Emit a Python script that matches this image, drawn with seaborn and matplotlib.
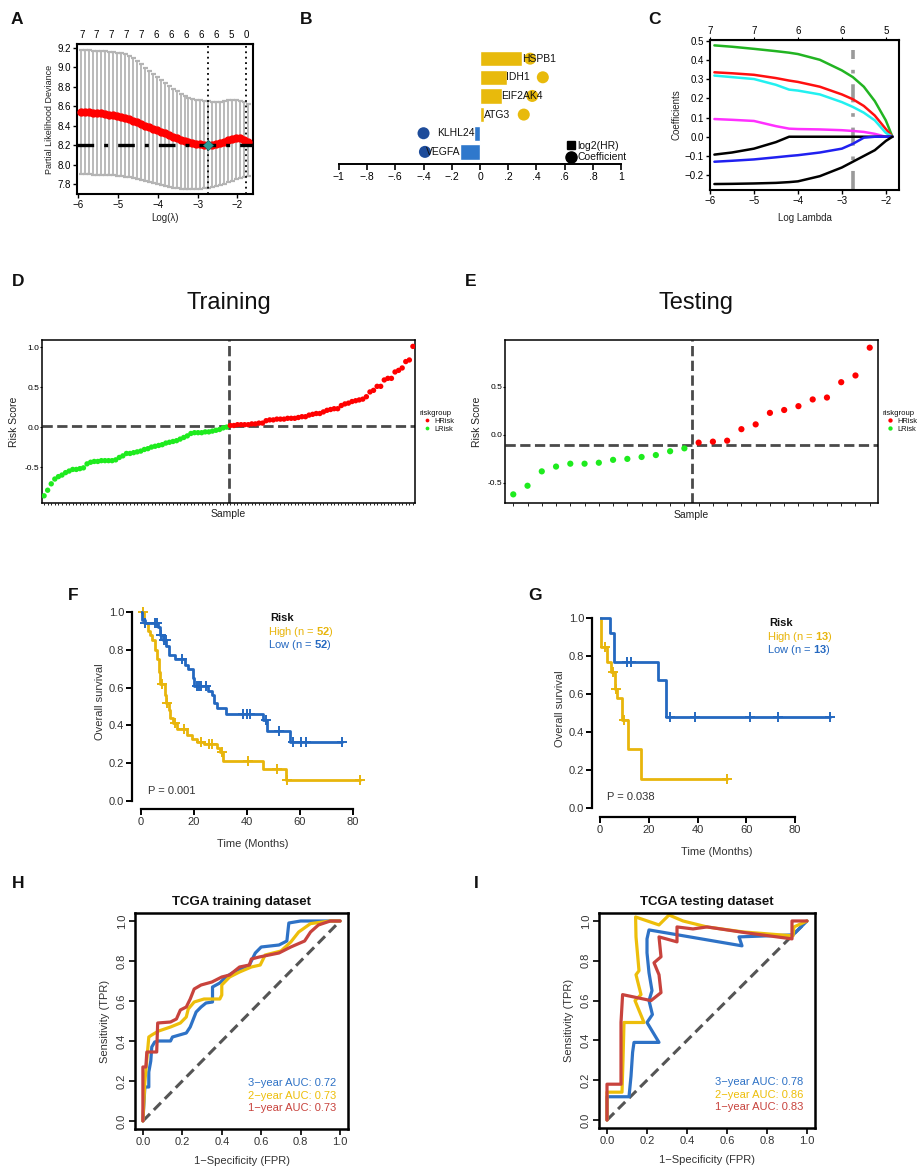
import numpy as np
import pandas as pd
import matplotlib
matplotlib.use("Agg")
import matplotlib.pyplot as plt
import seaborn as sns
from matplotlib.lines import Line2D

# ---------------- A : cross validation of the lasso model ----------------
cv_loglam = [-5.93, -5.83, -5.73, -5.63, -5.53, -5.43, -5.33, -5.23, -5.13, -5.03,
             -4.93, -4.83, -4.73, -4.63, -4.53, -4.43, -4.33, -4.23, -4.13, -4.03,
             -3.93, -3.83, -3.73, -3.63, -3.53, -3.43, -3.33, -3.23, -3.13, -3.03,
             -2.93, -2.83, -2.73, -2.63, -2.53, -2.43, -2.33, -2.23, -2.13, -2.03,
             -1.93, -1.83, -1.73]
cv_mean = [8.54, 8.54, 8.54, 8.53, 8.53, 8.53, 8.52, 8.51, 8.51, 8.50,
           8.49, 8.48, 8.47, 8.45, 8.44, 8.42, 8.40, 8.39, 8.37, 8.36,
           8.34, 8.33, 8.31, 8.29, 8.27, 8.25, 8.24, 8.23, 8.22, 8.21,
           8.21, 8.20, 8.20, 8.20, 8.21, 8.22, 8.23, 8.25, 8.26, 8.28,
           8.27, 8.25, 8.23]
cv_upper = [9.18, 9.18, 9.18, 9.17, 9.17, 9.17, 9.17, 9.16, 9.16, 9.15,
            9.15, 9.14, 9.12, 9.10, 9.07, 9.03, 8.99, 8.96, 8.93, 8.90,
            8.87, 8.84, 8.81, 8.78, 8.76, 8.73, 8.71, 8.69, 8.68, 8.67,
            8.66, 8.65, 8.65, 8.64, 8.64, 8.64, 8.65, 8.66, 8.66, 8.66,
            8.65, 8.64, 8.62]
cv_lower = [7.91, 7.91, 7.91, 7.90, 7.90, 7.90, 7.90, 7.89, 7.89, 7.88,
            7.88, 7.87, 7.87, 7.86, 7.85, 7.84, 7.83, 7.82, 7.81, 7.80,
            7.79, 7.78, 7.77, 7.76, 7.76, 7.75, 7.75, 7.75, 7.75, 7.75,
            7.75, 7.76, 7.76, 7.77, 7.78, 7.79, 7.80, 7.82, 7.83, 7.85,
            7.86, 7.87, 7.88]
cv_min_dev = 8.20
lam_min = -2.73
lam_1se = -1.79
cv_top_pos = [-5.91, -5.54, -5.16, -4.79, -4.41, -4.04, -3.66, -3.29, -2.91, -2.54, -2.16, -1.79]
cv_top_lab = ["7", "7", "7", "7", "7", "6", "6", "6", "6", "6", "5", "0"]

# ---------------- B : log2(HR) and coefficients ----------------
genes = ["HSPB1", "IDH1", "EIF2AK4", "ATG3", "KLHL24", "VEGFA"]
log2hr = [0.30, 0.19, 0.155, 0.03, -0.04, -0.14]
coefs = [0.355, 0.445, 0.37, 0.31, -0.40, -0.39]
b_ticks = [-1, -0.8, -0.6, -0.4, -0.2, 0, 0.2, 0.4, 0.6, 0.8, 1]
b_ticklab = ["\u22121", "\u2212.8", "\u2212.6", "\u2212.4", "\u2212.2", "0", ".2", ".4", ".6", ".8", "1"]

# ---------------- C : coefficient paths ----------------
path_loglam = [-5.9, -5.5, -5.0, -4.5, -4.2, -4.0, -3.5, -3.0, -2.75, -2.5, -2.25, -2.0, -1.85]
path_green = [0.475, 0.468, 0.457, 0.445, 0.437, 0.43, 0.40, 0.345, 0.31, 0.26, 0.185, 0.085, 0.0]
path_red = [0.335, 0.33, 0.322, 0.305, 0.292, 0.285, 0.26, 0.22, 0.195, 0.16, 0.11, 0.04, 0.0]
path_cyan = [0.318, 0.31, 0.30, 0.27, 0.245, 0.24, 0.22, 0.18, 0.155, 0.125, 0.085, 0.02, 0.0]
path_magenta = [0.092, 0.088, 0.082, 0.055, 0.042, 0.04, 0.038, 0.034, 0.03, 0.025, 0.015, 0.0, 0.0]
path_black1 = [-0.093, -0.082, -0.062, -0.028, 0.0, 0.0, 0.0, 0.0, 0.0, 0.0, 0.0, 0.0, 0.0]
path_blue = [-0.13, -0.125, -0.118, -0.107, -0.1, -0.096, -0.082, -0.062, -0.037, -0.005, 0.0, 0.0, 0.0]
path_black2 = [-0.246, -0.245, -0.243, -0.240, -0.236, -0.232, -0.205, -0.16, -0.13, -0.10, -0.07, -0.022, 0.0]
c_top_pos = [-6, -5, -4, -3, -2]
c_top_lab = ["7", "7", "6", "6", "5"]
c_lam = -2.75

# ---------------- D / E : risk score distribution ----------------
train_low = [-0.86, -0.79, -0.71, -0.65, -0.62, -0.60, -0.57, -0.55, -0.53, -0.53,
             -0.52, -0.51, -0.46, -0.44, -0.43, -0.43, -0.42, -0.42, -0.42, -0.42,
             -0.41, -0.38, -0.36, -0.33, -0.33, -0.32, -0.31, -0.30, -0.28, -0.27,
             -0.25, -0.24, -0.23, -0.22, -0.20, -0.19, -0.18, -0.17, -0.15, -0.13,
             -0.11, -0.08, -0.07, -0.07, -0.07, -0.06, -0.06, -0.05, -0.04, -0.03,
             -0.01, 0.00]
train_high = [0.02, 0.02, 0.03, 0.03, 0.03, 0.03, 0.04, 0.04, 0.05, 0.05,
              0.08, 0.09, 0.09, 0.10, 0.10, 0.10, 0.11, 0.11, 0.11, 0.12,
              0.13, 0.13, 0.15, 0.16, 0.17, 0.17, 0.19, 0.21, 0.22, 0.23,
              0.23, 0.27, 0.29, 0.30, 0.32, 0.33, 0.34, 0.35, 0.38, 0.44,
              0.46, 0.51, 0.51, 0.59, 0.61, 0.61, 0.69, 0.71, 0.74, 0.82,
              0.84, 1.01]
train_cut = 0.01
test_low = [-0.62, -0.53, -0.38, -0.33, -0.30, -0.30, -0.29, -0.26, -0.25, -0.23, -0.21, -0.17, -0.14]
test_high = [-0.08, -0.07, -0.06, 0.06, 0.11, 0.23, 0.26, 0.30, 0.37, 0.39, 0.55, 0.62, 0.91]
test_cut = -0.10

# ---------------- F / G : Kaplan-Meier ----------------
f_high_t = [0, 1.1, 2.5, 3.5, 4.1, 5.1, 6.0, 6.9, 7.3, 9.2, 9.5, 10.4, 11.0, 12.0, 13.5,
            17.5, 19.3, 21.2, 23.7, 28.7, 29.9, 31.1, 46.1, 54.7, 82.5]
f_high_s = [1.0, 0.94, 0.90, 0.88, 0.85, 0.80, 0.75, 0.68, 0.62, 0.56, 0.52, 0.48, 0.44, 0.41, 0.38,
            0.35, 0.33, 0.31, 0.30, 0.28, 0.26, 0.21, 0.17, 0.11, 0.11]
f_high_cens = [0.75, 7.9, 9.8, 12.7, 16.3, 22.6, 25.5, 26.7, 30.5, 40.5, 51.2, 55.2, 82.5]
f_low_t = [0, 0.4, 1.6, 6.6, 7.3, 8.3, 9.5, 10.4, 12.9, 16.7, 17.9, 19.6, 20.1, 25.1, 26.7,
           27.6, 28.6, 32.0, 46.1, 47.6, 56.2, 76.0]
f_low_s = [1.0, 0.96, 0.94, 0.92, 0.88, 0.85, 0.82, 0.77, 0.75, 0.72, 0.70, 0.65, 0.61, 0.58, 0.56,
           0.52, 0.49, 0.46, 0.43, 0.37, 0.31, 0.31]
f_low_cens = [1.6, 5.4, 6.0, 7.6, 8.8, 9.3, 15.6, 21.0, 21.8, 22.5, 24.7, 38.4, 39.9, 41.1,
              47.3, 52.2, 57.4, 60.2, 62.2, 76.0]
f_n = (52, 52)
f_p = "P = 0.001"

g_high_t = [0, 0.4, 3.0, 4.4, 6.1, 7.0, 9.0, 11.6, 17.0, 51.9]
g_high_s = [1.0, 0.846, 0.769, 0.718, 0.628, 0.577, 0.462, 0.308, 0.154, 0.154]
g_high_cens = [2.0, 5.2, 6.5, 9.9, 51.9]
g_low_t = [0, 4.1, 5.9, 23.9, 26.9, 94.2]
g_low_s = [1.0, 0.923, 0.769, 0.673, 0.481, 0.481]
g_low_cens = [10.9, 12.6, 28.7, 38.8, 61.7, 73.0, 94.2]
g_n = (13, 13)
g_p = "P = 0.038"

# ---------------- H / I : time dependent ROC ----------------
h_fpr_3y = [0, 0.01, 0.03, 0.03, 0.04, 0.045, 0.06, 0.08, 0.14, 0.15, 0.22, 0.24, 0.25, 0.27, 0.295,
            0.32, 0.353, 0.353, 0.39, 0.42, 0.47, 0.54, 0.57, 0.60, 0.69, 0.73, 0.74, 0.80, 0.85, 1.0]
h_tpr_3y = [0, 0.17, 0.17, 0.245, 0.30, 0.37, 0.395, 0.40, 0.40, 0.42, 0.44, 0.47, 0.495, 0.545, 0.57,
            0.59, 0.595, 0.67, 0.69, 0.72, 0.75, 0.78, 0.84, 0.87, 0.88, 0.90, 0.99, 1.0, 1.0, 1.0]
h_fpr_2y = [0, 0.01, 0.03, 0.045, 0.08, 0.14, 0.19, 0.22, 0.23, 0.26, 0.31, 0.39, 0.40, 0.40, 0.44,
            0.49, 0.55, 0.595, 0.62, 0.70, 0.75, 0.79, 0.85, 0.95, 1.0]
h_tpr_2y = [0, 0.195, 0.42, 0.43, 0.45, 0.47, 0.49, 0.52, 0.56, 0.595, 0.61, 0.61, 0.63, 0.68, 0.72,
            0.745, 0.77, 0.78, 0.83, 0.85, 0.895, 0.945, 0.987, 1.0, 1.0]
h_fpr_1y = [0, 0, 0.015, 0.02, 0.07, 0.075, 0.14, 0.17, 0.19, 0.22, 0.24, 0.26, 0.295, 0.35, 0.40,
            0.44, 0.49, 0.54, 0.55, 0.59, 0.69, 0.75, 0.82, 0.85, 0.89, 0.95, 1.0]
h_tpr_1y = [0, 0.27, 0.27, 0.345, 0.345, 0.49, 0.495, 0.51, 0.555, 0.57, 0.61, 0.66, 0.68, 0.695, 0.72,
            0.73, 0.77, 0.78, 0.81, 0.82, 0.84, 0.87, 0.90, 0.945, 0.98, 1.0, 1.0]
h_auc = [0.72, 0.73, 0.73]

i_fpr_3y = [0, 0, 0.11, 0.12, 0.128, 0.135, 0.26, 0.20, 0.227, 0.21, 0.225, 0.21, 0.20, 0.20, 0.21,
            0.675, 0.66, 0.93, 1.0]
i_tpr_3y = [0, 0.117, 0.117, 0.22, 0.34, 0.39, 0.39, 0.49, 0.53, 0.60, 0.65, 0.74, 0.84, 0.91, 0.955,
            0.875, 0.92, 0.93, 1.0]
i_fpr_2y = [0, 0, 0.075, 0.08, 0.085, 0.185, 0.14, 0.17, 0.145, 0.16, 0.145, 0.143, 0.26, 0.31, 0.38,
            0.5, 0.68, 0.93, 0.935, 1.0]
i_tpr_2y = [0, 0.14, 0.14, 0.30, 0.49, 0.49, 0.60, 0.63, 0.73, 0.75, 0.92, 1.02, 0.98, 1.03, 1.0,
            0.97, 0.945, 0.925, 0.97, 1.0]
i_fpr_1y = [0, 0, 0.07, 0.07, 0.078, 0.22, 0.27, 0.26, 0.235, 0.27, 0.26, 0.35, 0.35, 0.43, 0.5,
            0.7, 0.925, 0.925, 1.0]
i_tpr_1y = [0, 0.18, 0.18, 0.49, 0.63, 0.60, 0.64, 0.73, 0.79, 0.82, 0.92, 0.895, 0.97, 0.96, 0.97,
            0.94, 0.91, 1.0, 1.0]
i_auc = [0.78, 0.86, 0.83]

roc_years = ["3\u2212year", "2\u2212year", "1\u2212year"]
roc_colors = ["#2E72C6", "#EDBE0A", "#C8433D"]
gold = "#E8B50C"
blue_km = "#2468C0"

sns.set_style("ticks")
plt.rcParams["font.family"] = ["Liberation Sans", "DejaVu Sans"]
plt.rcParams["mathtext.fontset"] = "custom"
plt.rcParams["mathtext.rm"] = "Liberation Sans"
plt.rcParams["mathtext.bf"] = "Liberation Sans:bold"
plt.rcParams["axes.edgecolor"] = "black"
plt.rcParams["xtick.color"] = "black"
plt.rcParams["ytick.color"] = "black"
plt.rcParams["text.color"] = "#111111"
plt.rcParams["axes.labelcolor"] = "#222222"

W, H = 922, 1173
fig = plt.figure(figsize=(W / 100, H / 100), dpi=100)


def add_box(l, t, r, b):
    return fig.add_axes([l / W, 1 - b / H, (r - l) / W, (b - t) / H])


def frame(ax, lw):
    for s in ax.spines.values():
        s.set_visible(True)
        s.set_linewidth(lw)
        s.set_color("black")


def letter(x, y, s):
    fig.text(x / W, 1 - y / H, s, fontsize=12.5, fontweight="bold", ha="left", va="center")


# ---- A ----
ax = add_box(77, 44, 253, 194)
mean = np.array(cv_mean)
ax.errorbar(cv_loglam, cv_mean, yerr=[mean - np.array(cv_lower), np.array(cv_upper) - mean],
            fmt="none", ecolor="#B4B4B4", elinewidth=1.3, capsize=1.8, capthick=1.6, zorder=1)
sns.scatterplot(x=cv_loglam, y=cv_mean, color="red", s=36, linewidth=0, ax=ax, zorder=3)
ax.axhline(cv_min_dev, color="black", lw=2.4, ls=(0, (5, 3, 1.2, 3)), zorder=4)
for v in (lam_min, lam_1se):
    ax.axvline(v, color="black", lw=1.3, ls=(0, (1, 2)), zorder=2)
sns.scatterplot(x=[lam_min], y=[cv_min_dev], marker="D", color="#2E9C98", edgecolor="#17605C",
                s=28, ax=ax, zorder=5)
ax.set_xlim(-6.03, -1.61)
ax.set_ylim(7.70, 9.24)
ax.set_xticks([-6, -5, -4, -3, -2])
ax.set_yticks([7.8, 8.0, 8.2, 8.4, 8.6, 8.8, 9.0, 9.2])
ax.set_yticklabels(["7.8", "8.0", "8.2", "8.4", "8.6", "8.8", "9.0", "9.2"])
ax.tick_params(labelsize=7, length=3, width=1, pad=1.5)
ax.set_xlabel("Log(\u03bb)", fontsize=7, labelpad=2)
ax.set_ylabel("Partial Likelihood Deviance", fontsize=6.5, labelpad=2)
frame(ax, 1.5)
sec = ax.secondary_xaxis("top")
sec.set_xticks(cv_top_pos, labels=cv_top_lab)
sec.tick_params(length=0, labelsize=7, pad=3)
letter(11, 19, "A")

# ---- B ----
ax = add_box(336, 40, 624, 164)
sns.barplot(x=log2hr, y=genes, hue=genes, orient="h", width=0.82, saturation=1, legend=False,
            palette=["#E8BA0C" if v > 0 else "#2F78CC" for v in log2hr], ax=ax)
sns.scatterplot(x=coefs, y=np.arange(len(genes)), s=75, linewidth=0, ax=ax, zorder=3,
                hue=[g for g in genes], palette=["#E8BA0C" if v > 0 else "#1E4C9A" for v in coefs],
                legend=False)
for i, (g, v) in enumerate(zip(genes, log2hr)):
    if v > 0:
        ax.text(v - 0.005, i, g, ha="left", va="center", fontsize=7.5, zorder=4)
    else:
        ax.text(v, i, g, ha="right", va="center", fontsize=7.5, zorder=4)
ax.set_xlim(-1.02, 1.02)
ax.set_ylim(5.65, -1.0)
ax.set_xticks(b_ticks, labels=b_ticklab)
ax.set_yticks([])
ax.set_xlabel("")
ax.set_ylabel("")
for s in ("left", "top", "right"):
    ax.spines[s].set_visible(False)
ax.spines["bottom"].set_linewidth(1.4)
ax.spines["bottom"].set_bounds(-1, 1)
ax.tick_params(axis="x", labelsize=7.5, length=4, width=1.2, pad=1.5)
ax.legend(handles=[Line2D([], [], marker="s", ls="", color="black", ms=5.5),
                   Line2D([], [], marker="o", ls="", color="black", ms=8)],
          labels=["log2(HR)", "Coefficient"], loc="upper left", bbox_to_anchor=(0.78, 0.22),
          frameon=False, fontsize=7.5, handletextpad=0.0, labelspacing=0.15, borderaxespad=0,
          handlelength=1.2)
letter(300, 19, "B")

# ---- C ----
ax = add_box(710, 40, 899, 190)
paths = {"p1": path_green, "p2": path_red, "p3": path_cyan, "p4": path_magenta,
         "p5": path_black1, "p6": path_blue, "p7": path_black2}
path_colors = {"p1": "#22B422", "p2": "#FF1010", "p3": "#22F0F0", "p4": "#FF30FF",
               "p5": "black", "p6": "#2020F0", "p7": "black"}
path_df = pd.DataFrame([(k, x, y) for k, ys in paths.items() for x, y in zip(path_loglam, ys)],
                       columns=["var", "loglam", "coef"])
sns.lineplot(data=path_df, x="loglam", y="coef", hue="var", palette=path_colors, lw=1.8,
             sort=False, estimator=None, legend=False, ax=ax)
ax.vlines(c_lam, -0.27, 0.45, color="#9A9A9A", lw=2.6, ls=(0, (5, 3, 1, 3)), zorder=0)
ax.set_xlim(-5.985, -1.70)
ax.set_ylim(-0.277, 0.503)
ax.set_xticks([-6, -5, -4, -3, -2])
ax.set_yticks([-0.2, -0.1, 0.0, 0.1, 0.2, 0.3, 0.4, 0.5])
ax.set_yticklabels(["\u22120.2", "\u22120.1", "0.0", "0.1", "0.2", "0.3", "0.4", "0.5"])
ax.tick_params(labelsize=7, length=3, width=1, pad=1.5)
ax.set_xlabel("Log Lambda", fontsize=7, labelpad=5)
ax.set_ylabel("Coefficients", fontsize=7, labelpad=2)
frame(ax, 1.5)
sec = ax.secondary_xaxis("top")
sec.set_xticks(c_top_pos, labels=c_top_lab)
sec.tick_params(length=2, labelsize=7, pad=1)
letter(648, 19, "C")

# ---- D / E ----
risk_pal = {"HRisk": "#FF0000", "LRisk": "#1EEB1E"}


def risk_panel(box, low, high, cut, title, tcx, yticks, ylab, ylim, ms, tlen):
    ax = add_box(*box)
    scores = low + high
    df = pd.DataFrame({"sample": np.arange(len(scores)), "score": scores,
                       "riskgroup": ["LRisk"] * len(low) + ["HRisk"] * len(high)})
    sns.scatterplot(data=df, x="sample", y="score", hue="riskgroup", hue_order=["HRisk", "LRisk"],
                    palette=risk_pal, s=ms, linewidth=0, ax=ax, zorder=3)
    ax.axhline(cut, color="#4A4A4A", lw=2, ls=(0, (3.7, 1.6)), zorder=2)
    ax.axvline(len(low) - 0.5, color="#4A4A4A", lw=2, ls=(0, (3.7, 1.6)), zorder=2)
    ax.set_xlim(-0.58, len(scores) - 0.42)
    ax.set_ylim(*ylim)
    ax.set_xticks(df["sample"], labels=[""] * len(scores))
    ax.set_yticks(yticks, labels=ylab)
    ax.tick_params(axis="x", length=tlen, width=0.6)
    ax.tick_params(axis="y", length=1.5, width=0.8, labelsize=6, pad=0.5)
    ax.set_xlabel("Sample", fontsize=7.5, labelpad=-1)
    ax.set_ylabel("Risk Score", fontsize=7.5, labelpad=4)
    frame(ax, 1.1)
    sns.move_legend(ax, "center left", bbox_to_anchor=(1.005, 0.5), frameon=False, fontsize=5.4,
                    title="riskgroup", title_fontsize=5.6, markerscale=0.7, handletextpad=0.0,
                    labelspacing=0.1, borderaxespad=0, alignment="left")
    fig.text(tcx / W, 1 - 303 / H, title, fontsize=17, ha="center", va="center")


risk_panel((42, 340, 415, 503), train_low, train_high, train_cut, "Training", 229,
           [-0.5, 0.0, 0.5, 1.0], ["-0.5", "0.0", "0.5", "1.0"], (-0.95, 1.09), 15, 1.5)
risk_panel((505, 340, 878, 503), test_low, test_high, test_cut, "Testing", 696,
           [-0.5, 0.0, 0.5], ["-0.5", "0.0", "0.5"], (-0.71, 0.99), 20, 2.5)
letter(12, 282, "D")
letter(465, 282, "E")


# ---- F / G ----
def km_panel(box, xlim, xoff, yoff, high, low, n, ptxt, risk_xy, p_xy):
    ax = add_box(*box)
    for (t, s, cens), col in zip([high, low], [gold, blue_km]):
        sns.lineplot(x=t, y=s, drawstyle="steps-post", estimator=None, sort=False,
                     color=col, lw=2, ax=ax)
        idx = np.searchsorted(t, cens, side="right") - 1
        ax.plot(cens, np.array(s)[idx], ls="", marker="+", ms=7, mew=1.4, color=col, clip_on=False)
    ax.set_xlim(*xlim)
    ax.set_ylim(0, 1.05)
    ax.set_xticks([0, 20, 40, 60, 80])
    ax.set_yticks([0, 0.2, 0.4, 0.6, 0.8, 1.0], labels=["0.0", "0.2", "0.4", "0.6", "0.8", "1.0"])
    for s in ("top", "right"):
        ax.spines[s].set_visible(False)
    ax.spines["left"].set_position(("outward", xoff))
    ax.spines["bottom"].set_position(("outward", yoff))
    ax.spines["left"].set_bounds(0, 1)
    ax.spines["bottom"].set_bounds(0, 80)
    ax.spines["left"].set_linewidth(1.6)
    ax.spines["bottom"].set_linewidth(1.6)
    ax.tick_params(labelsize=8, length=4, width=1.4, pad=1.5, labelcolor="#333333")
    ax.set_xlabel("Time (Months)", fontsize=8, labelpad=9, color="#333333")
    ax.set_ylabel("Overall survival", fontsize=8, labelpad=3, color="#333333")
    rx, ry = risk_xy
    ax.text(rx + 0.8, ry, "Risk", fontsize=8, fontweight="bold", ha="left", va="center")
    ax.text(rx, ry - 0.072, "High (n = $\\mathbf{%d}$)" % n[0], fontsize=8, color=gold,
            ha="left", va="center")
    ax.text(rx, ry - 0.141, "Low (n = $\\mathbf{%d}$)" % n[1], fontsize=8, color=blue_km,
            ha="left", va="center")
    ax.text(p_xy[0], p_xy[1], ptxt, fontsize=8, color="#333333", ha="left", va="center")
    return ax


km_panel((141, 602.5, 363.6, 801), (0, 84), 6.5, 5.8,
         (f_high_t, f_high_s, f_high_cens), (f_low_t, f_low_s, f_low_cens), f_n, f_p,
         (47.9, 0.968), (2.6, 0.053))
km_panel((600, 608.5, 834, 808), (0, 96), 5.8, 6.5,
         (g_high_t, g_high_s, g_high_cens), (g_low_t, g_low_s, g_low_cens), g_n, g_p,
         (68.5, 0.974), (2.9, 0.058))
letter(68, 595, "F")
letter(528, 595, "G")


# ---- H / I ----
def roc_panel(box, curves, aucs, title):
    ax = add_box(*box)
    ax.plot([0, 1], [0, 1], color="#555555", lw=2.2, ls=(0, (3.3, 1.8)), zorder=1)
    for (fx, fy), col in zip(curves, roc_colors):
        sns.lineplot(x=fx, y=fy, sort=False, estimator=None, color=col, lw=2.3, ax=ax, zorder=2)
    for k, (lab, auc, col) in enumerate(zip(roc_years, aucs, roc_colors)):
        ax.text(0.98, 0.19 - 0.063 * k, "%s AUC: %.2f" % (lab, auc), color=col, fontsize=8,
                ha="right", va="center")
    ax.set_xlim(-0.04, 1.04)
    ax.set_ylim(-0.04, 1.04)
    ticks = [0, 0.2, 0.4, 0.6, 0.8, 1.0]
    labs = ["0.0", "0.2", "0.4", "0.6", "0.8", "1.0"]
    ax.set_xticks(ticks, labels=labs)
    ax.set_yticks(ticks, labels=labs)
    plt.setp(ax.get_yticklabels(), rotation=90, va="center")
    ax.tick_params(labelsize=8, length=4, width=1.2, pad=2, labelcolor="#333333")
    ax.set_xlabel("1\u2212Specificity (FPR)", fontsize=8, labelpad=6, color="#333333")
    ax.set_ylabel("Sensitivity (TPR)", fontsize=8, labelpad=5, color="#333333")
    ax.set_title(title, fontsize=9.5, fontweight="bold", pad=6)
    frame(ax, 1.8)


roc_panel((135, 913, 348, 1129),
          [(h_fpr_3y, h_tpr_3y), (h_fpr_2y, h_tpr_2y), (h_fpr_1y, h_tpr_1y)], h_auc,
          "TCGA training dataset")
roc_panel((599, 913, 815, 1128),
          [(i_fpr_3y, i_tpr_3y), (i_fpr_2y, i_tpr_2y), (i_fpr_1y, i_tpr_1y)], i_auc,
          "TCGA testing dataset")
letter(12, 884, "H")
letter(474, 884, "I")

fig.savefig("out.png", dpi=100)
